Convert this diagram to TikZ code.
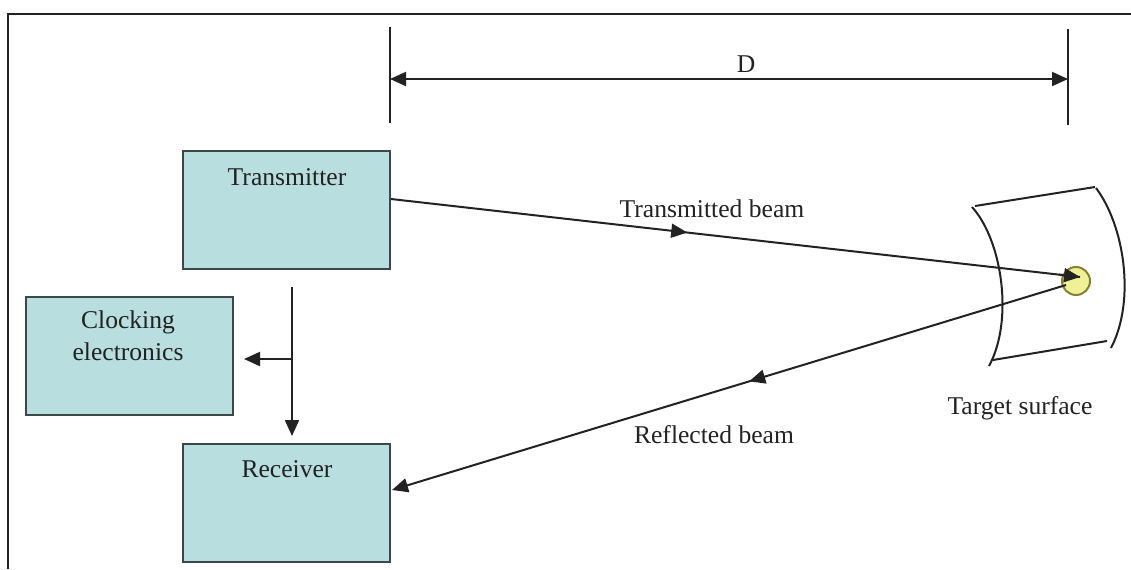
\documentclass[tikz,border=0pt]{standalone}
\usepackage{fontspec}
\setmainfont{Liberation Serif}
\usetikzlibrary{arrows.meta,decorations.markings,calc}
\definecolor{boxfill}{RGB}{184,222,224}
\definecolor{boxedge}{RGB}{60,72,72}
\definecolor{dotfill}{RGB}{240,240,150}
\definecolor{dotedge}{RGB}{130,130,50}
\definecolor{ink}{RGB}{34,34,34}
\tikzset{
  box/.style={draw=boxedge, line width=1pt, fill=boxfill, minimum width=103.5pt, minimum height=59pt, inner sep=0pt},
  lbl/.style={font=\fontsize{12.8pt}{15pt}\selectfont, text=ink, inner sep=0pt},
  ln/.style={draw=ink, line width=1pt},
  tip/.tip={Triangle[length=8pt,width=7pt]},
  arr/.style={ln, -tip},
  midarr/.style={ln, postaction={decorate}, decoration={markings, mark=at position #1 with {\arrow{tip}}}},
}
\begin{document}
\begin{tikzpicture}[x=0.5pt,y=-0.5pt]
\useasboundingbox (0,0) rectangle (1131,569);
% frame
\coordinate (fa) at (8,569);
\coordinate (fb) at (8,14);
\coordinate (fc) at (1131,14);
\draw[draw=ink, line width=1pt] (fa) -- (fb) -- (fc);

% dimension D
\coordinate (d1t) at (390,27); \coordinate (d1b) at (390,123);
\coordinate (d2t) at (1068,29); \coordinate (d2b) at (1068,125);
\draw[ln] (d1t) -- (d1b);
\draw[ln] (d2t) -- (d2b);
\coordinate (da) at (390,79); \coordinate (db) at (1068,79);
\draw[ln, tip-tip] (da) -- (db);
\node[lbl] (D) at (746,64) {D};

% boxes
\node[box] (tx) at (286.5,210) {};
\node[box] (ck) at (129.5,356) {};
\node[box] (rx) at (286.5,503) {};
\node[lbl] (txl) at (287,177) {Transmitter};
\node[lbl] (ckl1) at (128,322) {Clocking};
\node[lbl] (ckl2) at (128,352) {electronics};
\node[lbl] (rxl) at (287,469) {Receiver};

% timing arrows
\coordinate (vs) at (292,287);
\coordinate (ve) at (292,436);
\coordinate (split) at (292,359);
\coordinate (he) at (244,359);
\draw[arr] (vs) -- (ve);
\draw[arr] (split) -- (he);

% target surface
\draw[ln] (975,206) -- (1095,187);
\draw[ln] (972,207) .. controls (1002,240) and (1014,320) .. (989,366);
\draw[ln] (1096,188) .. controls (1124,225) and (1136,300) .. (1111,348);
\draw[ln] (993,360) -- (1107,341);
\node[lbl] (tsl) at (1020,408) {Target surface};

% target dot
\node[circle, draw=dotedge, line width=1pt, fill=dotfill, minimum size=14pt, inner sep=0pt] (dot) at (1076,281) {};

% beams
\coordinate (tb0) at (391,199);
\coordinate (tb1) at (1080,277);
\draw[midarr=0.43] (tb0) -- (tb1);
\draw[ln, -tip] ($(tb0)!0.97!(tb1)$) -- (tb1);
\node[lbl] (tbl) at (712,209) {Transmitted beam};

\coordinate (rb0) at (1066,285);
\coordinate (rb1) at (392,490);
\draw[arr, midarr=0.47] (rb0) -- (rb1);
\node[lbl] (rbl) at (714,435) {Reflected beam};
\end{tikzpicture}
\end{document}
